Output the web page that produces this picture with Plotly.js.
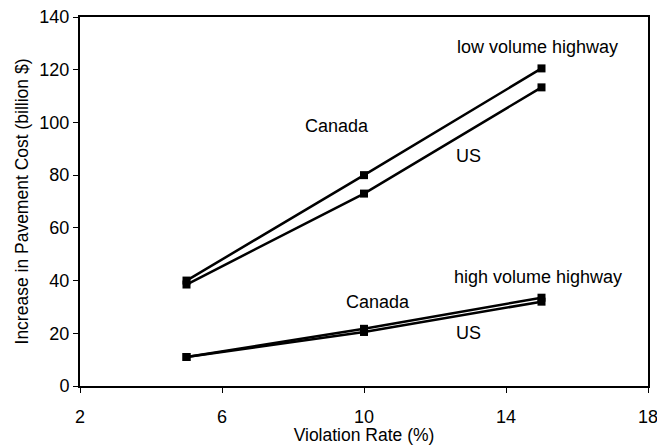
<!DOCTYPE html>
<html>
<head>
<meta charset="utf-8">
<script src="https://cdn.plot.ly/plotly-3.0.1.min.js"></script>
<style>html,body{margin:0;padding:0;background:#fff;}#chart{width:657px;height:445px;}</style>
</head>
<body>
<div id="chart"></div>
<script>
const violationRate = [5, 10, 15];
const lowCanada = [40, 80, 120.5];
const lowUS = [38.5, 73, 113.3];
const highCanada = [11, 21.7, 33.5];
const highUS = [11, 20.5, 32];
const xTicks = [2, 6, 10, 14, 18];
const yTicks = [0, 20, 40, 60, 80, 100, 120, 140];
const labelText = ["low volume highway", "Canada", "US", "high volume highway", "Canada", "US"];
const labelX = [14.9, 9.25, 12.95, 14.9, 10.4, 12.95];
const labelY = [128.7, 98.5, 87.3, 41.5, 31.8, 20.0];

const line = {color: '#000', width: 2.5};
const marker = {symbol: 'square', size: 8, color: '#000'};
function tr(y, name) {
  return {x: violationRate, y: y, name: name, mode: 'lines+markers', line: line, marker: marker, cliponaxis: false};
}
const data = [
  tr(lowCanada, 'Canada low volume'),
  tr(lowUS, 'US low volume'),
  tr(highCanada, 'Canada high volume'),
  tr(highUS, 'US high volume')
];
const font = {family: 'Liberation Sans, Arial, sans-serif', color: '#000'};
const annotations = labelText.map((t, i) => ({
  x: labelX[i], y: labelY[i], xref: 'x', yref: 'y', text: t, showarrow: false,
  font: Object.assign({}, font, {size: 18})
}));
const layout = {
  width: 657, height: 445,
  margin: {l: 80, r: 9, t: 17, b: 59},
  paper_bgcolor: '#fff', plot_bgcolor: '#fff',
  showlegend: false,
  font: font,
  xaxis: {
    range: [2, 18], tickvals: xTicks, ticktext: xTicks.map(String),
    showgrid: false, zeroline: false, showline: true, mirror: true,
    linecolor: '#000', linewidth: 2, ticks: 'outside', ticklen: 5, tickcolor: '#000',
    ticklabelstandoff: 8, ticklabeloverflow: 'allow',
    tickfont: Object.assign({}, font, {size: 18}),
    title: {text: 'Violation Rate (%)', font: Object.assign({}, font, {size: 17.5}), standoff: 0}
  },
  yaxis: {
    range: [0, 140], tickvals: yTicks, ticktext: yTicks.map(String),
    showgrid: false, zeroline: false, showline: true, mirror: true,
    linecolor: '#000', linewidth: 2, ticks: 'outside', ticklen: 5, tickcolor: '#000',
    ticklabeloverflow: 'allow',
    tickfont: Object.assign({}, font, {size: 18}),
    title: {text: 'Increase in Pavement Cost (billion $)', font: Object.assign({}, font, {size: 17.5}), standoff: 6}
  },
  annotations: annotations
};
Plotly.newPlot('chart', data, layout, {displayModeBar: false, staticPlot: true});
</script>
</body>
</html>
